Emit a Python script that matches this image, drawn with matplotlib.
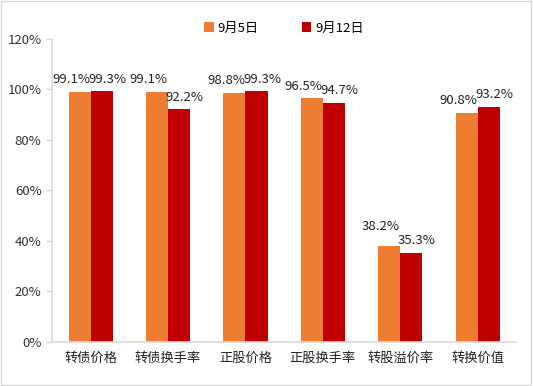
import matplotlib.pyplot as plt
import numpy as np

plt.rcParams['font.family'] = ['Noto Sans CJK SC', 'DejaVu Sans']

categories = ['转债价格', '转债换手率', '正股价格', '正股换手率', '转股溢价率', '转换价值']
sep5 = [99.1, 99.1, 98.8, 96.5, 38.2, 90.8]
sep12 = [99.3, 92.2, 99.3, 94.7, 35.3, 93.2]
labels = ['9月5日', '9月12日']

fig = plt.figure(figsize=(5.33, 3.86), dpi=100)
ax = fig.add_axes([0.0976, 0.114, 0.871, 0.785])

x = np.arange(len(categories))
w = 0.285
b1 = ax.bar(x - w / 2, sep5, w, color='#ED7D31', label=labels[0])
b2 = ax.bar(x + w / 2, sep12, w, color='#C00000', label=labels[1])

# orange labels sit a bit left, red ones a bit right, like the source
for bars, vals, dx in ((b1, sep5, -6), (b2, sep12, 4)):
    for i, (r, v) in enumerate(zip(bars, vals)):
        dy = 4
        if dx < 0 and i == 4:
            dy = 9
        ax.annotate(f'{v:.1f}%', (r.get_x() + r.get_width() / 2, v),
                    xytext=(dx, dy), textcoords='offset points',
                    ha='center', va='bottom', fontsize=9.5, color='#222222')

ax.set_ylim(0, 120)
ax.set_xlim(-0.5, len(categories) - 0.5)
ax.set_yticks(np.arange(0, 121, 20))
ax.set_yticklabels([f'{t}%' for t in range(0, 121, 20)], fontsize=9.5, color='#333333')
ax.set_xticks(x)
ax.set_xticklabels(categories, fontsize=9.5, color='#222222')
ax.tick_params(axis='x', length=0, pad=7)
ax.tick_params(axis='y', length=4, color='#d9d9d9', width=1)

for s in ('top', 'right'):
    ax.spines[s].set_visible(False)
ax.spines['left'].set_color('#d9d9d9')
ax.spines['bottom'].set_color('#d9d9d9')
ax.spines['left'].set_linewidth(1.2)
ax.spines['bottom'].set_linewidth(1.2)

ax.legend(loc='center', bbox_to_anchor=(0.5, 1.036), ncol=2, frameon=False,
          fontsize=9.5, handlelength=0.7, handleheight=0.7, columnspacing=3.3,
          handletextpad=0.3)

fig.patches.append(plt.Rectangle((0.002, 0.003), 0.995, 0.994, transform=fig.transFigure,
                                 fill=False, edgecolor='#d9d9d9', linewidth=1))

fig.savefig('out.png', dpi=100)
